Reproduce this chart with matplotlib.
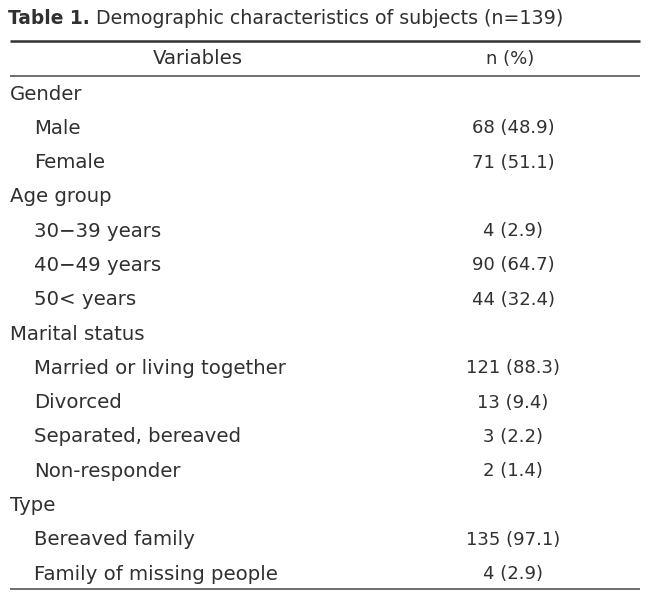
#!/usr/bin/env python3

import matplotlib.pyplot as plt

# Table content
title_bold = "Table 1."
title_rest = " Demographic characteristics of subjects (n=139)"
headers = ["Variables", "n (%)"]
labels = ["Gender", "Male", "Female",
          "Age group", "30\u221239 years", "40\u221249 years", "50< years",
          "Marital status", "Married or living together", "Divorced",
          "Separated, bereaved", "Non-responder",
          "Type", "Bereaved family", "Family of missing people"]
is_group = [True, False, False,
            True, False, False, False,
            True, False, False, False, False,
            True, False, False]
values = ["", "68 (48.9)", "71 (51.1)",
          "", "4 (2.9)", "90 (64.7)", "44 (32.4)",
          "", "121 (88.3)", "13 (9.4)", "3 (2.2)", "2 (1.4)",
          "", "135 (97.1)", "4 (2.9)"]

W, H = 660, 593
fig = plt.figure(figsize=(W / 100, H / 100), dpi=100)
ax = fig.add_axes([0, 0, 1, 1])
ax.set_xlim(0, W)
ax.set_ylim(H, 0)
ax.axis("off")

font = "DejaVu Sans"
fs = 14.2
fs_val = 13.0
col = "#303030"

# Title
t = ax.text(8, 18, title_bold, fontsize=13.4, fontweight="bold", family=font,
            color=col, va="center", ha="left")
ax.annotate(title_rest, xy=(1, 0.5), xycoords=t, va="center", ha="left",
            fontsize=13.7, family=font, color=col)

# Rules
ax.plot([10, 640], [41, 41], color="#333333", lw=1.8, solid_capstyle="butt")
ax.plot([10, 640], [75.5, 75.5], color="#555555", lw=1.2, solid_capstyle="butt")
ax.plot([10, 640], [588.5, 588.5], color="#555555", lw=1.2, solid_capstyle="butt")

# Header
ax.text(198, 59, headers[0], fontsize=fs, family=font, color=col,
        ha="center", va="center")
ax.text(510, 59, headers[1], fontsize=fs_val, family=font, color=col,
        ha="center", va="center")

# Rows
y0, dy = 94, 34.3
for i, (lab, grp, val) in enumerate(zip(labels, is_group, values)):
    y = y0 + i * dy
    x = 10 if grp else 34
    ax.text(x, y, lab, fontsize=fs, family=font, color=col, ha="left", va="center")
    if val:
        ax.text(513, y, val, fontsize=fs_val, family=font, color=col,
                ha="center", va="center")

fig.savefig("out.png", dpi=100)
